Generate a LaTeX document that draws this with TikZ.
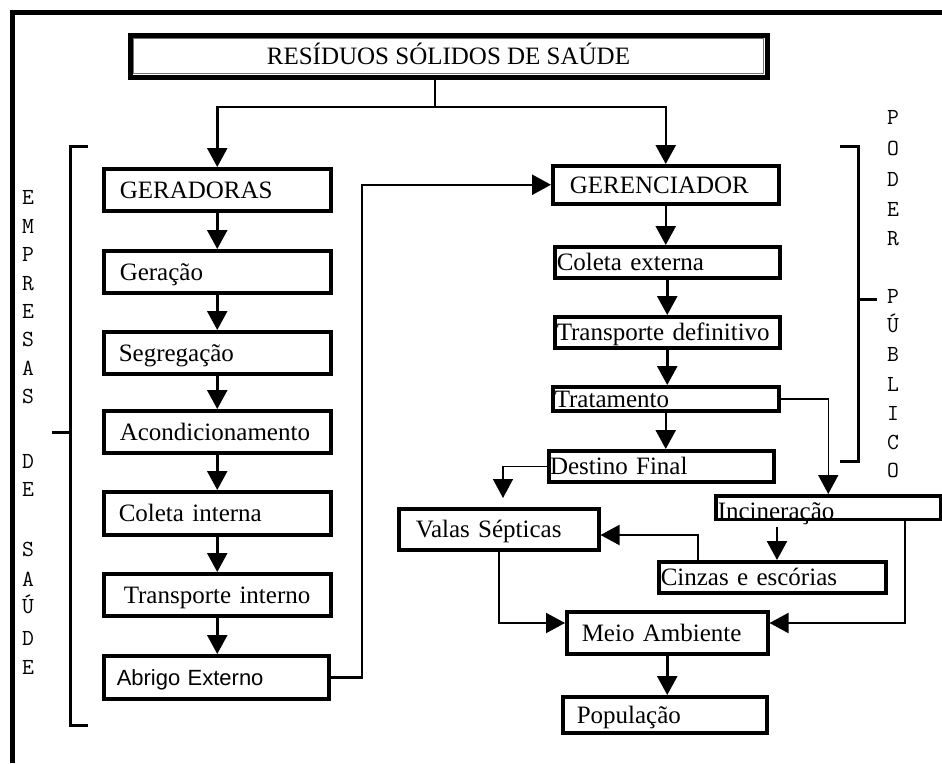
\documentclass[tikz,border=0pt]{standalone}
\usepackage{fontspec}
\setmainfont{Liberation Serif}
\newfontfamily\sansf{Liberation Sans}
\usetikzlibrary{arrows.meta,calc}
\begin{document}
\begin{tikzpicture}[x=1pt,y=-1pt,
  box/.style={draw, line width=3.5pt, rectangle, anchor=north west, inner ysep=0pt,
    align=left, text height=16.5pt, text depth=0pt, font=\fontsize{25}{30}\selectfont},
  vlet/.style={font=\ttfamily\fontsize{23}{23}\selectfont, inner sep=0pt, text height=14pt, text depth=0pt, anchor=center},
  conn/.style={line width=2.5pt},
  arr/.style={line width=2.5pt, -{Triangle[width=20pt,length=19pt]}},
  medarr/.style={line width=2pt, -{Triangle[width=20pt,length=19pt]}},
  thinarr/.style={line width=1.5pt, -{Triangle[width=20pt,length=19pt]}},
  brk/.style={line width=3pt}]
\useasboundingbox[fill=white] (0,0) rectangle (942,763);
% outer frame (top and left)
\draw[line width=5pt] (12.5,763) -- (12.5,12) -- (942,12);

% title
\node[draw, line width=5pt, anchor=north west, minimum width=637pt, minimum height=42pt,
  inner sep=0pt, font=\fontsize{25}{30}\selectfont, text height=16.5pt, text depth=0pt]
  (title) at (127.5,32.5) {RESÍDUOS SÓLIDOS DE SAÚDE};
\draw[line width=1.2pt, black!55] ([shift={(6pt,-6pt)}]title.north west) rectangle ([shift={(-6pt,6pt)}]title.south east);

% left column
\node[box, minimum width=227pt, minimum height=42pt, inner xsep=16pt, text width=195pt] (ger) at (102,167) {GERADORAS};
\node[box, minimum width=227pt, minimum height=42pt, inner xsep=16pt, text width=195pt] (gera) at (102,249) {Geração};
\node[box, minimum width=227pt, minimum height=42pt, inner xsep=15pt, text width=197pt] (seg) at (102,330) {Segregação};
\node[box, minimum width=227pt, minimum height=42pt, inner xsep=16pt, text width=195pt] (acon) at (102,409) {Acondicionamento};
\node[box, minimum width=227pt, minimum height=43pt, inner xsep=15pt, text width=197pt] (colint) at (102,490) {Coleta interna};
\node[box, minimum width=227pt, minimum height=42pt, inner xsep=20pt, text width=187pt] (trint) at (102,572) {Transporte interno};
\node[box, minimum width=225pt, minimum height=43pt, inner xsep=13pt, text width=199pt,
  font=\sansf\fontsize{22}{26}\selectfont, text height=16pt] (abrigo) at (102,654) {Abrigo Externo};

% right column
\node[box, minimum width=226pt, minimum height=38pt, inner xsep=17pt, text width=192pt] (geren) at (551,164) {GERENCIADOR};
\node[box, minimum width=225pt, minimum height=31pt, inner xsep=2pt, text width=221pt] (colext) at (553,245) {Coleta externa};
\node[box, minimum width=225pt, minimum height=31pt, inner xsep=2pt, text width=221pt] (trdef) at (553,315) {Transporte definitivo};
\node[box, minimum width=226pt, minimum height=24pt, inner xsep=2pt, text width=222pt] (trat) at (551,385) {Tratamento};
\node[box, line width=4pt, minimum width=225pt, minimum height=31pt, inner xsep=1pt, text width=223pt] (dest) at (547,449) {Destino Final};
\node[box, minimum width=225pt, minimum height=23pt, inner xsep=2pt, text width=221pt, text height=23.5pt] (incin) at (714,494) {Incineração};
\node[box, minimum width=227pt, minimum height=31pt, inner xsep=2pt, text width=223pt] (cinzas) at (657,560) {Cinzas e escórias};
\node[box, minimum width=200pt, minimum height=41pt, inner xsep=17pt, text width=166pt] (valas) at (397,507) {Valas Sépticas};
\node[box, minimum width=201pt, minimum height=42pt, inner xsep=15pt, text width=171pt] (meio) at (565,610) {Meio Ambiente};
\node[box, minimum width=204pt, minimum height=36pt, inner xsep=14pt, text width=176pt] (pop) at (561,695) {População};

% vertical labels
\foreach \ch/\yy [count=\i] in {E/197,M/226,P/254,R/283,E/311,S/339,A/368,S/396,D/461,E/489,S/549,A/579,Ú/606,D/638,E/667}
  \node[vlet] (el\i) at (28,\yy) {\ch};
\foreach \ch/\yy [count=\i] in {P/117,O/148,D/179,E/209,R/238,P/296,Ú/325,B/354,L/384,I/413,C/442,O/470}
  \node[vlet] (pl\i) at (893,\yy) {\ch};

% brackets
\draw[brk] (88,146) -- (70,146) -- (70,725) -- (88,725);
\draw[brk] (52,432) -- (70,432);
\draw[brk] (840,146) -- (858,146) -- (858,461) -- (840,461);
\draw[brk] (858,299) -- (877,299);

% connectors from title
\coordinate (split) at (435,107);
\draw[conn] (title.south -| split) -- (split);
\draw[arr] (split) -| (ger.north);
\draw[arr] (split) -| (geren.north);

% left chain
\foreach \a/\b in {ger/gera, gera/seg, seg/acon, acon/colint, colint/trint, trint/abrigo}
  \draw[arr] (\a.south) -- (\a.south |- \b.north);

% right chain
\foreach \a/\b in {geren/colext, colext/trdef, trdef/trat, trat/dest, meio/pop}
  \draw[arr] (\a.south) -- (\a.south |- \b.north);

% abrigo -> gerenciador
\coordinate (ag) at (362,0);
\draw[arr] (abrigo.east) -| (ag |- geren.west) -- (geren.west);

% tratamento -> incineracao
\draw[thinarr] (trat.east) -| (incin.north);
% destino -> valas
\coordinate (dv) at (503,498);
\draw[thinarr] (dest.west) -| (dv);
% incineracao -> cinzas
\coordinate (ic) at (777,527);
\draw[arr] (ic) -- (ic |- cinzas.north);
% cinzas -> valas
\coordinate (cv) at (698,535);
\draw[medarr] (cv |- cinzas.north) -- (cv) -- (cv -| valas.east);
% incineracao -> meio
\coordinate (im) at (905,623);
\draw[medarr] (incin.south -| im) -- (im) -- (im -| meio.east);
% valas -> meio
\draw[medarr] (valas.south) |- (meio.west |- im);
\end{tikzpicture}
\end{document}
